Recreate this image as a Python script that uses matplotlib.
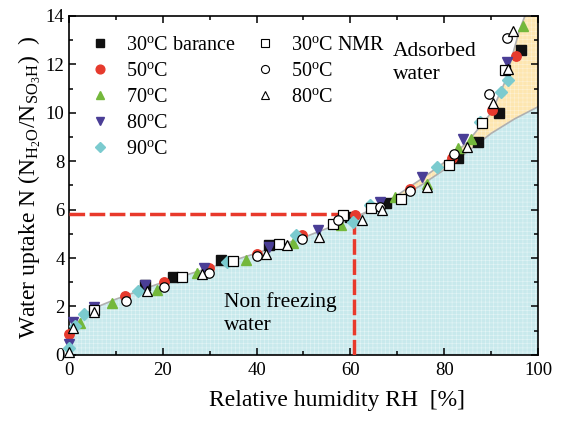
import numpy as np
import matplotlib
matplotlib.use("Agg")
import matplotlib.pyplot as plt
from matplotlib.lines import Line2D

plt.rcParams["font.family"] = ["Liberation Serif", "DejaVu Serif"]
plt.rcParams["mathtext.fontset"] = "custom"
plt.rcParams["mathtext.rm"] = "Liberation Serif"
plt.rcParams["mathtext.it"] = "Liberation Serif:italic"
plt.rcParams["hatch.linewidth"] = 0.4

# gravimetric (balance) series
bal30_rh = [16.3, 22.3, 32.5, 42.7, 59.9, 67.6, 82.9, 87.1, 91.7, 96.3]
bal30_n = [2.9, 3.2, 3.93, 4.52, 5.7, 6.26, 8.13, 8.81, 10.0, 12.6]
bal50_rh = [0.0, 5.4, 12.0, 20.2, 29.8, 40.0, 49.8, 61.0, 72.7, 81.7, 90.1, 95.3]
bal50_n = [0.85, 1.9, 2.45, 3.0, 3.6, 4.15, 4.94, 5.77, 6.87, 8.12, 10.1, 12.34]
bal70_rh = [2.4, 9.2, 18.8, 27.3, 37.7, 47.7, 57.9, 69.5, 76.3, 82.9, 85.8, 96.7]
bal70_n = [1.3, 2.13, 2.7, 3.4, 3.93, 4.62, 5.35, 6.53, 7.08, 8.53, 8.9, 13.58]
bal80_rh = [0.0, 0.9, 5.4, 16.3, 28.8, 42.7, 53.2, 66.3, 75.2, 84.0, 93.3]
bal80_n = [0.45, 1.34, 1.96, 2.88, 3.6, 4.45, 5.15, 6.32, 7.36, 8.9, 12.1]
bal90_rh = [0.0, 1.3, 3.2, 14.8, 33.7, 48.4, 60.5, 64.2, 78.5, 87.6, 92.2, 93.6]
bal90_n = [0.3, 1.2, 1.7, 2.65, 3.83, 4.94, 5.5, 6.18, 7.75, 9.64, 10.88, 11.34]

# NMR series
nmr30_rh = [5.4, 24.2, 35.0, 44.8, 56.3, 58.4, 64.5, 70.7, 81.0, 88.1, 92.9]
nmr30_n = [1.85, 3.2, 3.87, 4.6, 5.42, 5.77, 6.05, 6.46, 7.84, 9.57, 11.75]
nmr50_rh = [12.2, 20.2, 29.8, 40.0, 49.8, 57.3, 66.3, 72.7, 82.0, 89.6, 93.3]
nmr50_n = [2.24, 2.8, 3.4, 4.07, 4.77, 5.56, 6.1, 6.78, 8.3, 10.78, 13.1]
nmr80_rh = [0.0, 0.9, 5.4, 16.7, 28.4, 42.0, 46.4, 53.4, 62.4, 66.7, 76.3, 84.8, 90.3, 93.6, 94.6]
nmr80_n = [0.1, 1.13, 1.76, 2.66, 3.35, 4.18, 4.52, 4.87, 5.56, 5.97, 6.95, 8.57, 10.4, 11.8, 13.4]

# total water curve and non-freezing boundary
total_rh = [0, 1, 5, 10, 20, 30, 40, 50, 60, 65, 70, 75, 80, 85, 90, 93, 96, 97.2]
total_n = [0.6, 1.2, 1.9, 2.3, 3.0, 3.6, 4.2, 4.85, 5.6, 6.05, 6.6, 7.25, 7.95, 8.8, 10.0, 11.3, 13.4, 14.0]
bound_rh = [60, 65, 70, 75, 80, 85, 90, 95, 100]
bound_n = [5.6, 6.0, 6.45, 7.0, 7.65, 8.4, 9.15, 9.75, 10.25]

threshold_rh = 60.7
threshold_n = 5.8

fig = plt.figure(figsize=(5.64, 4.21), dpi=100)
ax = fig.add_axes([0.122, 0.157, 0.832, 0.805])

x = np.linspace(0, 100, 801)
top = np.interp(x, total_rh, total_n, right=14.0)
low = np.where(x < 60, top, np.interp(x, bound_rh, bound_n))
low = np.minimum(low, top)

ax.fill_between(x, 0, low, facecolor="#c8e9ec", edgecolor="#e4f5f6",
                hatch="++++", linewidth=0, zorder=1)
ax.fill_between(x, low, top, where=x >= 59.5, facecolor="#fde6b0",
                edgecolor="#fdf1d4", hatch="++++", linewidth=0, zorder=1)
ax.plot(total_rh, total_n, color="#b0b0b0", lw=1.2, zorder=2)
ax.plot(bound_rh, bound_n, color="#b0b0b0", lw=1.2, zorder=2)

red = "#e8392b"
ax.plot([0, threshold_rh], [threshold_n, threshold_n], color=red, lw=2.5,
        dashes=(4.5, 1.3), zorder=3)
ax.plot([threshold_rh, threshold_rh], [0, threshold_n], color=red, lw=2.5,
        dashes=(4.5, 1.3), zorder=3)

ms = 6.8
filled = [
    (bal30_rh, bal30_n, "s", "#111111", r"30$^{\mathrm{o}}$C barance"),
    (bal50_rh, bal50_n, "o", "#e63a2d", r"50$^{\mathrm{o}}$C"),
    (bal70_rh, bal70_n, "^", "#74b83c", r"70$^{\mathrm{o}}$C"),
    (bal80_rh, bal80_n, "v", "#4a3e96", r"80$^{\mathrm{o}}$C"),
    (bal90_rh, bal90_n, "D", "#7bcbcf", r"90$^{\mathrm{o}}$C"),
]
opened = [
    (nmr30_rh, nmr30_n, "s", r"30$^{\mathrm{o}}$C NMR"),
    (nmr50_rh, nmr50_n, "o", r"50$^{\mathrm{o}}$C"),
    (nmr80_rh, nmr80_n, "^", r"80$^{\mathrm{o}}$C"),
]

h1 = []
for rh, n, mk, col, lab in filled:
    size = ms - 1 if mk == "D" else ms
    ax.plot(rh, n, linestyle="none", marker=mk, ms=size, mfc=col, mec=col,
            zorder=4, clip_on=False)
    h1.append(Line2D([], [], linestyle="none", marker=mk, ms=size - 0.5,
                     mfc=col, mec=col, label=lab))
h2 = []
for rh, n, mk, lab in opened:
    ax.plot(rh, n, linestyle="none", marker=mk, ms=ms, mfc="white",
            mec="black", mew=0.9, zorder=5, clip_on=False)
    h2.append(Line2D([], [], linestyle="none", marker=mk, ms=ms - 1,
                     mfc="white", mec="black", mew=0.8, label=lab))

leg_kw = dict(loc="upper left", frameon=False, fontsize=14.5,
              handlelength=1.2, handletextpad=0.7, labelspacing=0.34,
              borderaxespad=0.0)
leg1 = ax.legend(handles=h1, bbox_to_anchor=(0.023, 0.965), **leg_kw)
ax.add_artist(leg1)
ax.legend(handles=h2, bbox_to_anchor=(0.375, 0.965), **leg_kw)

ax.text(69, 12.05, "Adsorbed\nwater", fontsize=15.5, ha="left", va="center",
        linespacing=1.3, zorder=6)
ax.text(33, 1.7, "Non freezing\nwater", fontsize=15.5, ha="left",
        va="center", linespacing=1.3, zorder=6)

ax.set_xlim(0, 100)
ax.set_ylim(0, 14)
ax.set_xticks(np.arange(0, 101, 20))
ax.set_xticks(np.arange(0, 101, 10), minor=True)
ax.set_yticks(np.arange(0, 15, 2))
ax.set_yticks(np.arange(0, 15, 1), minor=True)
ax.tick_params(which="both", direction="in", top=True, right=True,
               labelsize=13.5, width=1.1)
ax.tick_params(which="major", length=5)
ax.tick_params(which="minor", length=3)
ax.tick_params(axis="x", pad=5)
ax.tick_params(axis="y", pad=3)
for sp in ax.spines.values():
    sp.set_linewidth(1.2)

ax.set_xlabel("Relative humidity RH  [%]", fontsize=17)
ax.set_ylabel(r"Water uptake N (N$_{\mathrm{H_2O}}$/N$_{\mathrm{SO_3H}}$)  )",
              fontsize=17)
ax.xaxis.set_label_coords(0.572, -0.105)
ax.yaxis.set_label_coords(-0.055, 0.494)

fig.savefig("out.png", dpi=100)
